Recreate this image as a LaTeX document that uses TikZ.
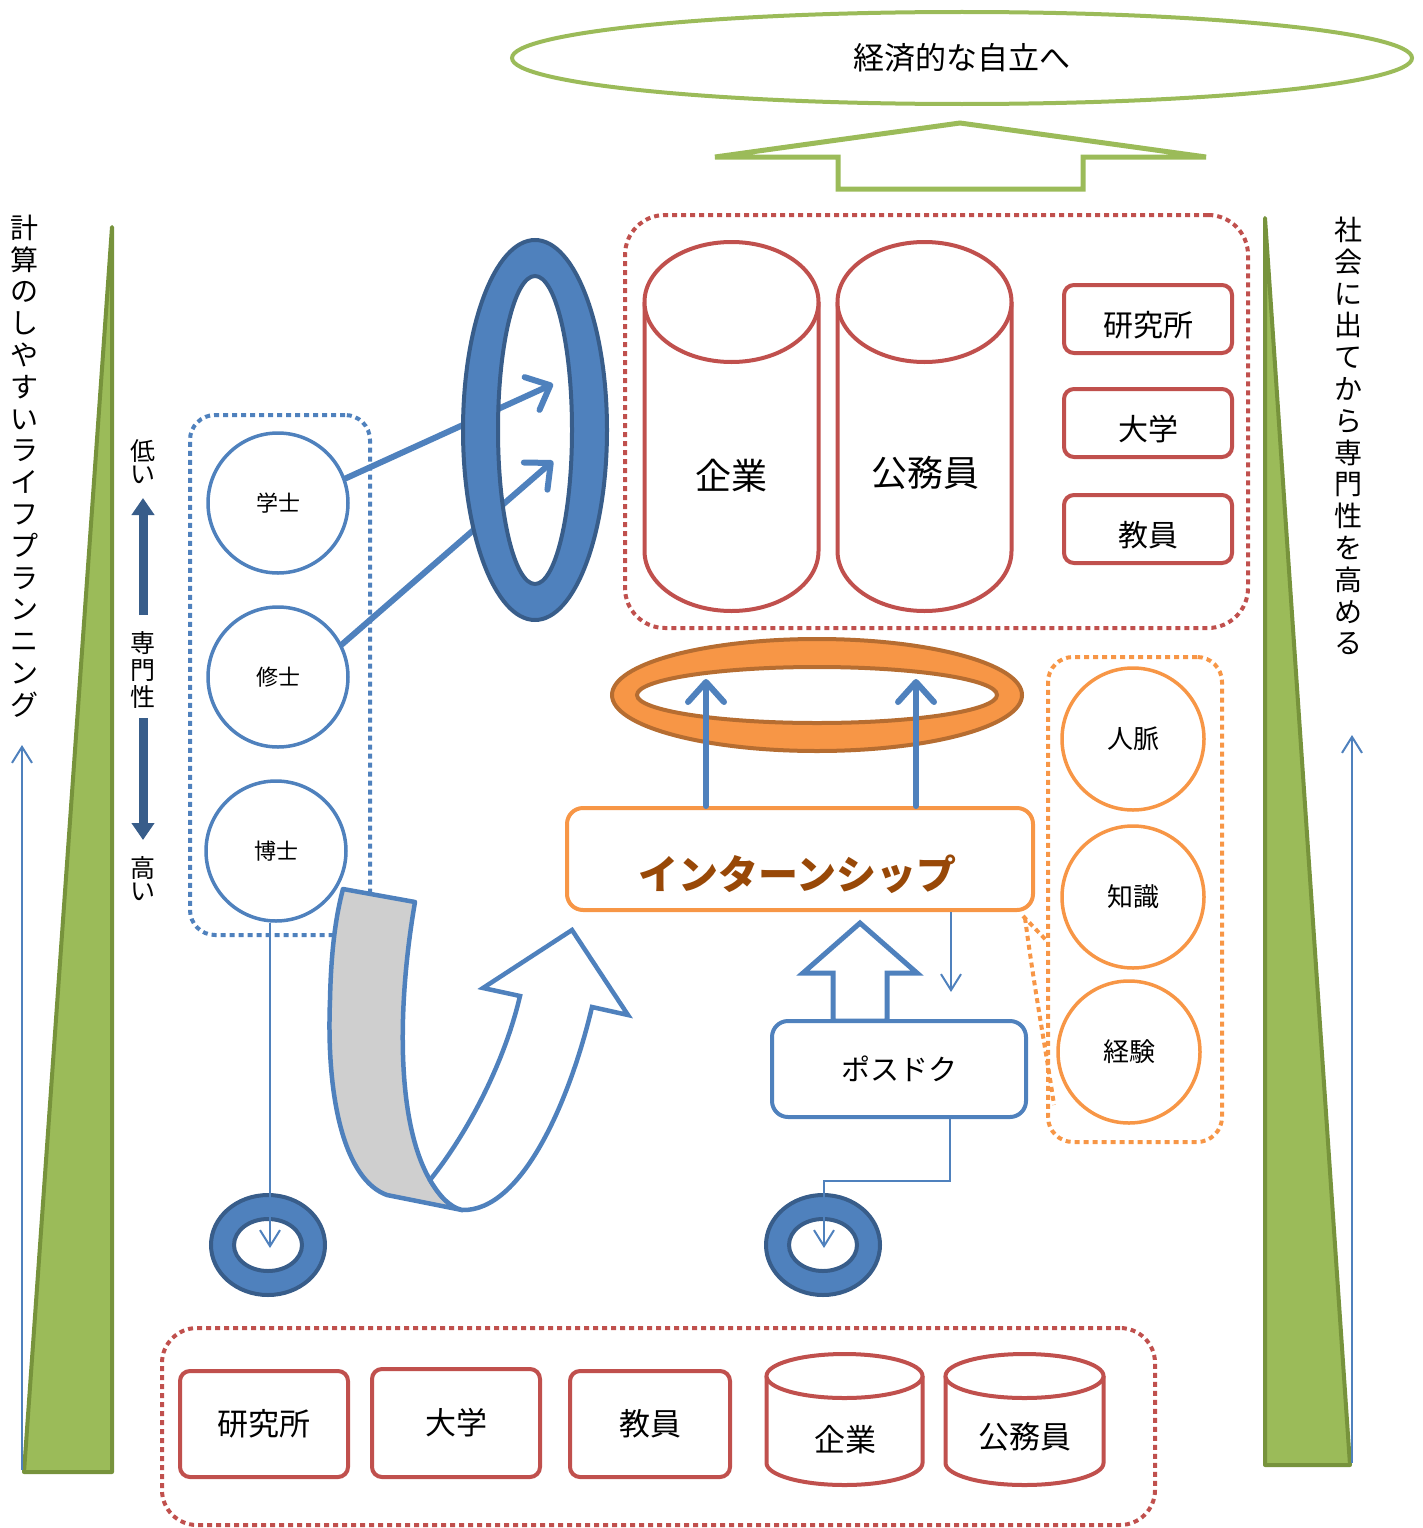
\documentclass[tikz,border=0pt]{standalone}
\usepackage{fontspec}
\setmainfont{Noto Sans CJK JP}
\usetikzlibrary{arrows.meta,shapes.geometric}
\definecolor{bl}{HTML}{4F81BD}
\definecolor{dbl}{HTML}{385D8A}
\definecolor{rd}{HTML}{C0504D}
\definecolor{og}{HTML}{F79646}
\definecolor{ogd}{HTML}{B66D31}
\definecolor{gr}{HTML}{9BBB59}
\definecolor{grd}{HTML}{77933C}
\definecolor{brn}{HTML}{984807}
\definecolor{gry}{HTML}{CFCFCF}
\newcommand{\myfs}[2]{\fontsize{#1}{#2}\selectfont}
\begin{document}
\begin{tikzpicture}[x=1pt,y=-1pt,
  reddot/.style={draw=rd,line width=4pt,dash pattern=on 5pt off 4pt,rounded corners=40pt},
  bluedot/.style={draw=bl,line width=4pt,dash pattern=on 5pt off 4pt,rounded corners=25pt},
  orangedot/.style={draw=og,line width=4pt,dash pattern=on 5pt off 4pt,rounded corners=25pt},
  redbox/.style={draw=rd,line width=4pt,rounded corners=10pt,fill=white,inner sep=0pt},
  lowtext/.style={text height=36pt,text depth=1pt},
  bcirc/.style={circle,draw=bl,line width=3.5pt,minimum size=140pt,inner sep=0pt,font=\myfs{22}{22}},
  ocirc/.style={circle,draw=og,line width=3.5pt,minimum size=142pt,inner sep=0pt,font=\myfs{26}{26}},
  cyl/.style={draw=rd,line width=4pt,fill=white},
  thickarrow/.style={draw=bl,line width=6pt,line cap=round,-{Straight Barb[length=20pt,width=36pt,round]}},
  thinarrow/.style={draw=bl,line width=2pt,-{Straight Barb[length=16pt,width=20pt]}},
  vtext/.style={align=center,inner sep=0pt,font=\myfs{28}{31.8}},
  scalearrow/.style={draw=dbl,line width=9pt,-{Triangle[length=17pt,width=22pt]}},
  donut/.style={fill=bl,draw=dbl,line width=4pt,even odd rule}
]
\useasboundingbox (0,0) rectangle (1422,1528);

% ---- side triangles
\filldraw[fill=gr,draw=grd,line width=4pt,line join=round] (112,227) -- (112,1472) -- (24,1472) -- cycle;
\filldraw[fill=gr,draw=grd,line width=4pt,line join=round] (1265,218) -- (1265,1465) -- (1350,1465) -- cycle;
\coordinate (lbot) at (22,1470);
\coordinate (ltop) at (22,745);
\coordinate (rbot) at (1352,1463);
\coordinate (rtop) at (1352,735);
\draw[thinarrow] (lbot) -- (ltop);
\draw[thinarrow] (rbot) -- (rtop);
\node[vtext] (ltext) at (24,466) {計\\算\\の\\し\\や\\す\\い\\ラ\\イ\\フ\\プ\\ラ\\ン\\ニ\\ン\\グ};
\node[vtext] (rtext) at (1348,436) {社\\会\\に\\出\\て\\か\\ら\\専\\門\\性\\を\\高\\め\\る};

% ---- goal
\node[draw=gr,line width=4pt,ellipse,minimum width=900pt,minimum height=92pt,inner sep=0pt,font=\myfs{31}{31}] (goal) at (962,58) {経済的な自立へ};
\draw[gr,line width=5pt,fill=white] (715,157) -- (960,123) -- (1206,157) -- (1083,157) -- (1083,189) -- (838,189) -- (838,157) -- cycle;

% ---- top right group
\node[reddot,minimum width=623pt,minimum height=413pt] (topgrp) at (936.5,421.5) {};
\draw[cyl] (644.5,302) -- (644.5,551) arc[start angle=180,end angle=0,x radius=87,y radius=60] -- (818.5,302);
\draw[cyl] (731.5,302) ellipse[x radius=87,y radius=60];
\draw[cyl] (837.5,302) -- (837.5,551) arc[start angle=180,end angle=0,x radius=87,y radius=60] -- (1011.5,302);
\draw[cyl] (924.5,302) ellipse[x radius=87,y radius=60];
\node[font=\myfs{36}{36}] (kigyo1) at (731,476) {企業};
\node[font=\myfs{36}{36}] (komu1) at (925,473) {公務員};
\node[redbox,lowtext,minimum width=168pt,minimum height=68pt,font=\myfs{30}{30}] (ken1) at (1148,319) {研究所};
\node[redbox,lowtext,minimum width=168pt,minimum height=68pt,font=\myfs{30}{30}] (dai1) at (1148,423) {大学};
\node[redbox,lowtext,minimum width=168pt,minimum height=68pt,font=\myfs{30}{30}] (kyo1) at (1148,529) {教員};

% ---- scale
\node[font=\myfs{25}{23},align=center,inner sep=0pt] (low) at (143,462) {低\\い};
\node[font=\myfs{25}{27},align=center,inner sep=0pt] (senmon) at (143,670) {専\\門\\性};
\node[font=\myfs{25}{23},align=center,inner sep=0pt] (high) at (143,879) {高\\い};
\draw[scalearrow] (senmon.north |- 0,615) -- (senmon.north |- 0,498);
\draw[scalearrow] (senmon.south |- 0,718) -- (senmon.south |- 0,840);

% ---- degrees
\node[bluedot,minimum width=180pt,minimum height=520pt] (degbox) at (280,675) {};
\node[bcirc] (gakushi) at (278,503) {学士};
\node[bcirc] (shushi) at (278,677) {修士};
\node[bcirc] (hakushi) at (276,851) {博士};

\coordinate (t1) at (553,384);
\coordinate (t2) at (553,461);
\draw[thickarrow] (gakushi.20) -- (t1);
\draw[thickarrow] (shushi.27) -- (t2);
\coordinate (ring) at (535,430);
\path[donut] (ring) ellipse[x radius=72,y radius=190] (ring) ellipse[x radius=37,y radius=154];

% ---- internship
\coordinate (oring) at (817,695);
\path[fill=og,draw=ogd,line width=4pt,even odd rule] (oring) ellipse[x radius=205,y radius=56] (oring) ellipse[x radius=180,y radius=28];
\node[draw=og,line width=4pt,rounded corners=16pt,minimum width=466pt,minimum height=102pt,fill=white] (intern) at (800,859) {};
\node[font=\myfs{40}{40}\bfseries,text=brn] (interntxt) at (797,874) {インターンシップ};
\coordinate (oa1) at (706,679);
\coordinate (oa2) at (916,679);
\draw[thickarrow] (intern.north -| oa1) -- (oa1);
\draw[thickarrow] (intern.north -| oa2) -- (oa2);

% ---- skills
\node[orangedot,minimum width=174pt,minimum height=485pt] (skillbox) at (1135,899.5) {};
\node[ocirc] (jinmyaku) at (1133,739) {人脈};
\node[ocirc] (chishiki) at (1133,897) {知識};
\node[ocirc] (keiken) at (1129,1052) {経験};
\draw[draw=og,line width=4pt,dash pattern=on 5pt off 4pt] (intern.south east) ++(-12,4) -- (skillbox.south west |- 0,940);
\draw[draw=og,line width=4pt,dash pattern=on 5pt off 4pt] (intern.south east) ++(-10,6) .. controls (1036,1000) and (1046,1050) .. (1054,1105);

% ---- postdoc
\draw[bl,line width=5pt,fill=white] (833,1021) -- (833,973) -- (803,973) -- (860,923) -- (917,973) -- (887,973) -- (887,1021) -- cycle;
\node[draw=bl,line width=4pt,rounded corners=16pt,minimum width=254pt,minimum height=96pt,fill=white,font=\myfs{29}{29}] (posdoc) at (899,1069) {ポスドク};
\coordinate (ia) at (951,992);
\draw[thinarrow] (intern.south -| ia) -- (ia);

% ---- donuts
\coordinate (dL) at (268,1245);
\coordinate (dR) at (823,1245);
\path[donut] (dL) ellipse[x radius=57,y radius=50] (dL) ellipse[x radius=34,y radius=26];
\path[donut] (dR) ellipse[x radius=57,y radius=50] (dR) ellipse[x radius=34,y radius=26];
\coordinate (aL) at (270,1248);
\coordinate (aR) at (824,1248);
\coordinate (pd) at (950,1181);
\draw[thinarrow] (hakushi.south -| aL) -- (aL);
\draw[thinarrow] (posdoc.south -| pd) -- (pd) -| (aR);

% ---- curved arrow
\filldraw[fill=gry,draw=bl,line width=4.5pt,line join=round]
  (343,889) -- (415,902) .. controls (398,1000) and (395,1120) .. (430,1180)
  .. controls (440,1197) and (450,1207) .. (462,1210) -- (387,1195)
  .. controls (345,1180) and (326,1100) .. (330,1000) .. controls (331,950) and (336,915) .. (343,889) -- cycle;
\filldraw[fill=white,draw=bl,line width=4.5pt,line join=miter]
  (430,1180) .. controls (470,1130) and (505,1060) .. (520,996) -- (483,988) -- (572,930) -- (628,1015) -- (592,1007)
  .. controls (570,1100) and (522,1212) .. (462,1210) .. controls (450,1207) and (440,1197) .. (430,1180) -- cycle;

% ---- bottom group
\node[reddot,rounded corners=35pt,minimum width=993pt,minimum height=197pt] (botgrp) at (658.5,1426.5) {};
\node[redbox,minimum width=168pt,minimum height=106pt,font=\myfs{31}{31}] (ken2) at (264,1424) {研究所};
\node[redbox,minimum width=168pt,minimum height=108pt,font=\myfs{31}{31}] (dai2) at (456,1423) {大学};
\node[redbox,minimum width=160pt,minimum height=106pt,font=\myfs{31}{31}] (kyo2) at (650,1424) {教員};
\draw[cyl] (766.5,1376) -- (766.5,1463) arc[start angle=180,end angle=0,x radius=78,y radius=22] -- (922.5,1376);
\draw[cyl] (844.5,1376) ellipse[x radius=78,y radius=22];
\draw[cyl] (945.5,1376) -- (945.5,1463) arc[start angle=180,end angle=0,x radius=79,y radius=22] -- (1103.5,1376);
\draw[cyl] (1024.5,1376) ellipse[x radius=79,y radius=22];
\node[font=\myfs{31}{31}] (kigyo2) at (845,1440) {企業};
\node[font=\myfs{31}{31}] (komu2) at (1025,1437) {公務員};
\end{tikzpicture}
\end{document}
